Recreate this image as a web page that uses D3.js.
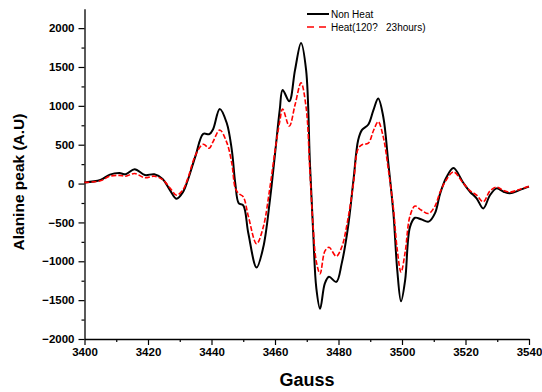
<!DOCTYPE html>
<html>
<head>
<meta charset="utf-8">
<script src="https://cdn.jsdelivr.net/npm/d3@7"></script>
<style>
    body { margin: 0; background: #fff; }
    svg { display: block; font-family: Arial, "Liberation Sans", sans-serif; }
</style>
</head>
<body>
<div id="chart"></div>
<script>
const gauss = [
    3400, 3405, 3408, 3411, 3413, 3415.8, 3419, 3422, 3424.6, 3427,
    3429, 3431, 3432.5, 3435, 3437.4, 3439.3, 3440.5, 3442.6, 3444.8, 3446.4,
    3447.5, 3448.6, 3450, 3451.6, 3454.2, 3456.3, 3458.4, 3460, 3461.5, 3462.4,
    3464.5, 3466.3, 3468.2, 3469.8, 3471, 3472, 3473, 3474.2, 3475.7, 3477,
    3479.3, 3481, 3483, 3484.7, 3486.2, 3487.4, 3489.4, 3491, 3492.5, 3494.1,
    3495.7, 3497.3, 3498.5, 3499.7, 3501, 3502.5, 3504.1, 3506, 3508.4, 3510.4,
    3512, 3514, 3516.2, 3519.3, 3521.4, 3523.5, 3525.6, 3527.7, 3529.8, 3532,
    3534, 3537, 3540
];
const nonHeat = [
    15, 45, 115, 135, 120, 185, 110, 120, 60, -90,
    -195, -110, 40, 360, 640, 635, 700, 960, 780, 430,
    0, -255, -280, -640, -1080, -820, -212, 380, 950, 1205,
    1060, 1460, 1810, 1460, 260, -600, -1340, -1610, -1285, -1200,
    -1265, -1030, -560, 40, 560, 690, 760, 945, 1095, 860,
    260, -384, -1110, -1515, -1240, -560, -440, -460, -490, -380,
    -130, 80, 200, 10, -105, -190, -320, -150, -62, -105,
    -125, -85, -40
];
const heat = [
    15, 35, 95, 105, 95, 130, 75, 95, 50, -60,
    -150, -80, 60, 370, 505, 455, 540, 690, 530, 260,
    -60, -130, -170, -420, -775, -560, -50, 420, 800, 960,
    740, 1010, 1295, 980, 150, -550, -1000, -1160, -870, -820,
    -935, -820, -450, 0, 450, 500, 520, 680, 795, 600,
    180, -320, -850, -1140, -880, -420, -290, -340, -385, -290,
    -110, 50, 150, 5, -90, -150, -235, -95, -45, -90,
    -110, -75, -35
];
const seriesNames = ["Non Heat", "Heat(120?   23hours)"];
const xTicks = [3400, 3420, 3440, 3460, 3480, 3500, 3520, 3540];
const yTicks = [-2000, -1500, -1000, -500, 0, 500, 1000, 1500, 2000];

const width = 542, height = 392;
const x0 = 84.5, x1 = 529, yBottom = 339, yTop = 8.7;

const svg = d3.select("#chart").append("svg")
    .attr("width", width)
    .attr("height", height);

const x = d3.scaleLinear().domain([3400, 3540]).range([x0, x1]);
const y = d3.scaleLinear().domain([-2000, 2250]).range([yBottom, yTop]);

// minor ticks
const xMinor = d3.range(3410, 3540, 20);
const yMinor = d3.range(-1750, 2250, 500);
svg.append("g")
    .attr("transform", `translate(0,${yBottom})`)
    .call(d3.axisBottom(x).tickValues(xMinor).tickSize(3).tickFormat(""))
    .call(g => g.select(".domain").remove());
svg.append("g")
    .attr("transform", `translate(${x0},0)`)
    .call(d3.axisLeft(y).tickValues(yMinor).tickSize(3).tickFormat(""))
    .call(g => g.select(".domain").remove());

const xAxis = svg.append("g")
    .attr("transform", `translate(0,${yBottom})`)
    .call(d3.axisBottom(x).tickValues(xTicks).tickFormat(d3.format("d"))
        .tickSize(6).tickSizeOuter(0).tickPadding(3));
const yAxis = svg.append("g")
    .attr("transform", `translate(${x0},0)`)
    .call(d3.axisLeft(y).tickValues(yTicks).tickFormat(d3.format("d"))
        .tickSize(6).tickSizeOuter(0).tickPadding(4));

for (const ax of [xAxis, yAxis]) {
    ax.selectAll("line, path").attr("stroke", "#000").attr("stroke-width", 1.3);
    ax.selectAll("text")
        .attr("fill", "#000")
        .style("font-family", "Arial, 'Liberation Sans', sans-serif")
        .style("font-size", "11.5px")
        .style("font-weight", "bold");
}
svg.selectAll(".tick line").attr("stroke", "#000").attr("stroke-width", 1.2);

// axis titles
svg.append("text")
    .attr("x", 307)
    .attr("y", 386)
    .attr("text-anchor", "middle")
    .style("font-size", "18px")
    .style("font-weight", "bold")
    .text("Gauss");
svg.append("text")
    .attr("transform", "translate(24,182) rotate(-90)")
    .attr("text-anchor", "middle")
    .style("font-size", "15.5px")
    .style("font-weight", "bold")
    .text("Alanine peak (A.U)");

// lines
const line = d3.line()
    .x(d => x(d[0]))
    .y(d => y(d[1]))
    .curve(d3.curveCatmullRom.alpha(0.5));

svg.append("path")
    .datum(gauss.map((g, i) => [g, nonHeat[i]]))
    .attr("fill", "none")
    .attr("stroke", "#000")
    .attr("stroke-width", 2)
    .attr("d", line);
svg.append("path")
    .datum(gauss.map((g, i) => [g, heat[i]]))
    .attr("fill", "none")
    .attr("stroke", "#ff0000")
    .attr("stroke-width", 1.6)
    .attr("stroke-dasharray", "5,2")
    .attr("d", line);

// legend
const legend = svg.append("g").attr("transform", "translate(307,0)");
const legendStyles = [
    { stroke: "#000", dash: null, w: 2, y: 14 },
    { stroke: "#ff0000", dash: "7,5", w: 1.6, y: 27 }
];
seriesNames.forEach((name, i) => {
    const s = legendStyles[i];
    legend.append("line")
        .attr("x1", 0).attr("x2", 22)
        .attr("y1", s.y).attr("y2", s.y)
        .attr("stroke", s.stroke)
        .attr("stroke-width", s.w)
        .attr("stroke-dasharray", s.dash);
    legend.append("text")
        .attr("x", 24)
        .attr("y", s.y + 3.5)
        .style("font-size", "10px")
        .style("white-space", "pre")
        .attr("xml:space", "preserve")
        .text(name);
});
</script>
</body>
</html>
